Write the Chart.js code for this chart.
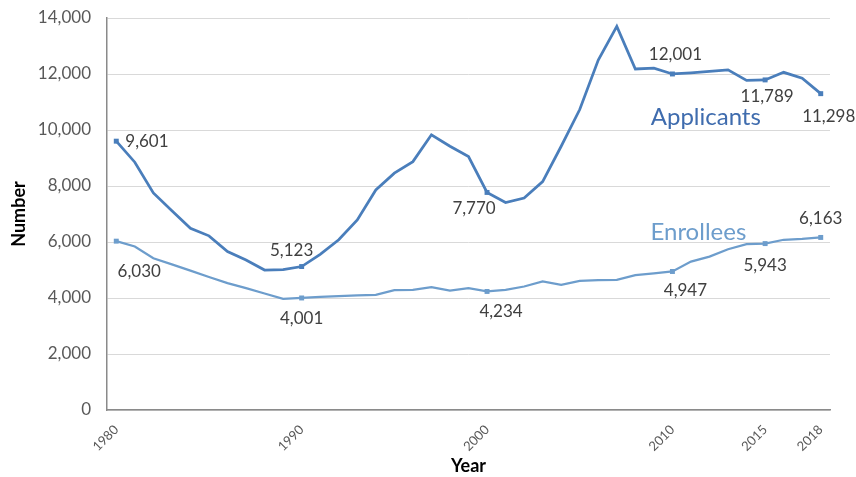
<!DOCTYPE html>
<html>
<head>
<meta charset="utf-8">
<title>Applicants and Enrollees, 1980-2018</title>
<script src="https://cdn.jsdelivr.net/npm/chart.js@4.4.1/dist/chart.umd.min.js"></script>
<style>
    html, body { margin: 0; padding: 0; background: #fff; }
    .chart-box { width: 856px; height: 477px; position: relative; }
</style>
</head>
<body>
<div class="chart-box"><canvas id="trendChart"></canvas></div>
<script>
// Data
const years = [];
for (let y = 1980; y <= 2018; y++) years.push(String(y));

const shownYears = ['1980', '1990', '2000', '2010', '2015', '2018'];

const applicants = [
    9601, 8850, 7750, 7120, 6490, 6220, 5660, 5360, 5000, 5010,
    5123, 5560, 6080, 6790, 7860, 8460, 8870, 9830, 9420, 9050,
    7770, 7410, 7570, 8160, 9420, 10730, 12500, 13700, 12180, 12210,
    12001, 12040, 12090, 12150, 11770, 11789, 12060, 11850, 11298
];

const enrollees = [
    6030, 5840, 5420, 5200, 4980, 4750, 4530, 4350, 4160, 3970,
    4001, 4040, 4070, 4090, 4110, 4280, 4290, 4390, 4260, 4350,
    4234, 4290, 4410, 4590, 4470, 4610, 4640, 4650, 4820, 4880,
    4947, 5300, 5480, 5740, 5920, 5943, 6080, 6110, 6163
];

const yTicks = [0, 2000, 4000, 6000, 8000, 10000, 12000, 14000];

// Theme
const COLORS = {
    applicants: '#4a7ebb',
    enrollees: '#6d9dcc',
    applicantsText: '#3f6cae',
    enrolleesText: '#6d9dcc',
    label: '#404040',
    tick: '#595959',
    grid: '#d9d9d9',
    axis: '#8a8a8a'
};

const FONT = "Lato, 'Open Sans', sans-serif";

// Where each value label sits relative to its point (dx, dy in px)
const LABEL_OFFSETS = {
    0: { '1980': [9, 0, 'left'], '1990': [-10, -16, 'center'], '2000': [-13, 16, 'center'],
         '2010': [3, -19, 'center'], '2015': [2, 17, 'center'], '2018': [8, 23, 'center'] },
    1: { '1980': [23, 30, 'center'], '1990': [0, 21, 'center'], '2000': [14, 20, 'center'],
         '2010': [13, 19, 'center'], '2015': [0, 22, 'center'], '2018': [0, -19, 'center'] }
};

// Series name labels, in data units (category index, value)
const SERIES_NAMES = [
    { text: 'Applicants', idx: 31.8, value: 10470, color: COLORS.applicantsText },
    { text: 'Enrollees', idx: 31.4, value: 6360, color: COLORS.enrolleesText }
];

const isMarked = ctx => shownYears.includes(years[ctx.dataIndex]);

/**
 * Value labels + series names
 */
const annotationsPlugin = {
    id: 'annotations',
    afterDatasetsDraw(chart) {
        const c = chart.ctx;
        c.save();
        c.textBaseline = 'middle';
        c.font = '17px ' + FONT;
        c.fillStyle = COLORS.label;
        chart.data.datasets.forEach((ds, di) => {
            const meta = chart.getDatasetMeta(di);
            shownYears.forEach(yr => {
                const i = years.indexOf(yr);
                const pt = meta.data[i];
                const off = LABEL_OFFSETS[di][yr];
                c.textAlign = off[2];
                c.fillText(ds.data[i].toLocaleString('en-US'), pt.x + off[0], pt.y + off[1]);
            });
        });

        const xs = chart.scales.x;
        const ys = chart.scales.y;
        c.font = '24px ' + FONT;
        c.textAlign = 'center';
        SERIES_NAMES.forEach(s => {
            c.fillStyle = s.color;
            c.fillText(s.text, xs.getPixelForValue(s.idx), ys.getPixelForValue(s.value));
        });
        c.restore();
    }
};

function initChart() {
    const ctx = document.getElementById('trendChart');
    if (!ctx) return;

    new Chart(ctx, {
        type: 'line',
        data: {
            labels: years,
            datasets: [
                {
                    label: 'Applicants',
                    data: applicants,
                    borderColor: COLORS.applicants,
                    backgroundColor: COLORS.applicants,
                    borderWidth: 2.75,
                    tension: 0,
                    pointStyle: 'rect',
                    pointRadius: ctx => isMarked(ctx) ? 3.5 : 0,
                    pointBorderWidth: 0
                },
                {
                    label: 'Enrollees',
                    data: enrollees,
                    borderColor: COLORS.enrollees,
                    backgroundColor: COLORS.enrollees,
                    borderWidth: 2.25,
                    tension: 0,
                    pointStyle: 'rect',
                    pointRadius: ctx => isMarked(ctx) ? 3.5 : 0,
                    pointBorderWidth: 0
                }
            ]
        },
        options: {
            responsive: true,
            maintainAspectRatio: false,
            animation: false,
            layout: {
                padding: { left: 8, right: 26, top: 18, bottom: 0 }
            },
            plugins: {
                legend: { display: false },
                tooltip: { enabled: false }
            },
            scales: {
                x: {
                    offset: true,
                    grid: { display: false, drawTicks: false },
                    border: { color: COLORS.axis, width: 1.5 },
                    ticks: {
                        autoSkip: false,
                        minRotation: 45,
                        maxRotation: 45,
                        padding: 12,
                        color: COLORS.tick,
                        font: { family: FONT, size: 13 },
                        callback: function(value) {
                            const lbl = this.getLabelForValue(value);
                            return shownYears.includes(lbl) ? lbl : '';
                        }
                    },
                    title: {
                        display: true,
                        text: 'Year',
                        color: '#000',
                        padding: { top: 0, bottom: 0 },
                        font: { family: FONT, size: 18, weight: 'bold' }
                    },
                    afterFit: scale => { scale.height = 67; }
                },
                y: {
                    min: yTicks[0],
                    max: yTicks[yTicks.length - 1],
                    afterBuildTicks: scale => {
                        scale.ticks = yTicks.map(v => ({ value: v }));
                    },
                    grid: { color: COLORS.grid, drawTicks: false },
                    border: { color: COLORS.axis, width: 1.5 },
                    ticks: {
                        padding: 16,
                        color: COLORS.tick,
                        font: { family: FONT, size: 17 },
                        callback: value => value.toLocaleString('en-US')
                    },
                    title: {
                        display: true,
                        text: 'Number',
                        color: '#000',
                        padding: { top: 0, bottom: 0 },
                        font: { family: FONT, size: 18, weight: 'bold' }
                    },
                    afterFit: scale => {
                        scale.width = 99;
                        scale.paddingTop = 0;
                        scale.paddingBottom = 0;
                    }
                }
            }
        },
        plugins: [annotationsPlugin]
    });
}

document.addEventListener('DOMContentLoaded', initChart);
</script>
</body>
</html>
